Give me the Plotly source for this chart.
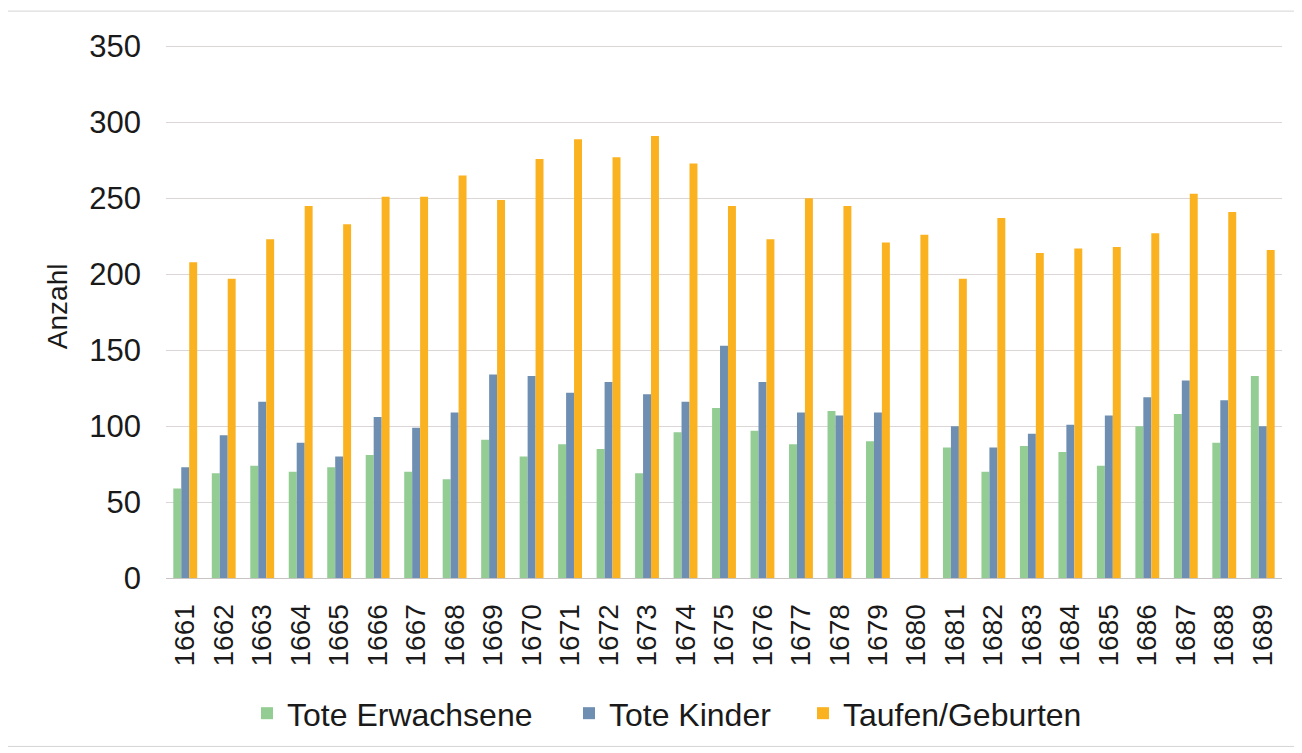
import plotly.graph_objects as go

years = [str(y) for y in range(1661, 1690)]
tote_erwachsene = [59, 69, 74, 70, 73, 81, 70, 65, 91, 80, 88, 85, 69, 96, 112, 97, 88, 110, 90, 0,
                   86, 70, 87, 83, 74, 100, 108, 89, 133]
tote_kinder = [73, 94, 116, 89, 80, 106, 99, 109, 134, 133, 122, 129, 121, 116, 153, 129, 109, 107, 109, 0,
               100, 86, 95, 101, 107, 119, 130, 117, 100]
taufen_geburten = [208, 197, 223, 245, 233, 251, 251, 265, 249, 276, 289, 277, 291, 273, 245, 223, 250, 245, 221, 226,
                   197, 237, 214, 217, 218, 227, 253, 241, 216]

series_names = ["Tote Erwachsene", "Tote Kinder", "Taufen/Geburten"]
colors = ["#93cd93", "#6e8fb2", "#fbb221"]
legend_ids = ["legend", "legend2", "legend3"]
legend_x = [0.0726, 0.3611, 0.5708]

fig = go.Figure()
for name, vals, col, lid in zip(series_names, [tote_erwachsene, tote_kinder, taufen_geburten], colors, legend_ids):
    fig.add_trace(go.Bar(x=years, y=vals, name=name, legend=lid,
                         marker=dict(color=col, line=dict(width=0))))

font_family = "Liberation Sans, Arial, sans-serif"
legend_common = dict(orientation="h", xanchor="left", y=-0.254, yanchor="middle",
                     font=dict(size=32), itemwidth=30, bgcolor="rgba(0,0,0,0)", borderwidth=0)

fig.update_layout(
    width=1294, height=745,
    margin=dict(l=158, r=20, t=37, b=165),
    paper_bgcolor="white", plot_bgcolor="white",
    barmode="group", bargap=0.38, bargroupgap=0.0,
    font=dict(family=font_family, color="#1a1a1a"),
    showlegend=True,
    legend=dict(x=legend_x[0], **legend_common),
    legend2=dict(x=legend_x[1], **legend_common),
    legend3=dict(x=legend_x[2], **legend_common),
    xaxis=dict(type="category", tickangle=-90, tickfont=dict(size=28), showgrid=False,
               showline=True, linecolor="#c8c4c4", linewidth=1, ticks="", ticklabelstandoff=14),
    yaxis=dict(range=[0, 351], tickvals=[0, 50, 100, 150, 200, 250, 300, 350], tickfont=dict(size=31),
               showgrid=True, gridcolor="#dcd6d6",
               gridwidth=1, zeroline=False, showline=False, ticks="", ticklabelstandoff=24),
    annotations=[dict(text="Anzahl", xref="paper", yref="paper", x=-0.0977, y=0.51, xanchor="center",
                      yanchor="middle", textangle=-90, showarrow=False, font=dict(size=28))],
    shapes=[dict(type="rect", xref="paper", yref="paper", x0=-0.1425, x1=1.017, y0=-0.316, y1=1.0636,
                 line=dict(color="#d4d4d4", width=1), fillcolor="rgba(0,0,0,0)", layer="below")],
)

fig.write_html("out.html")
